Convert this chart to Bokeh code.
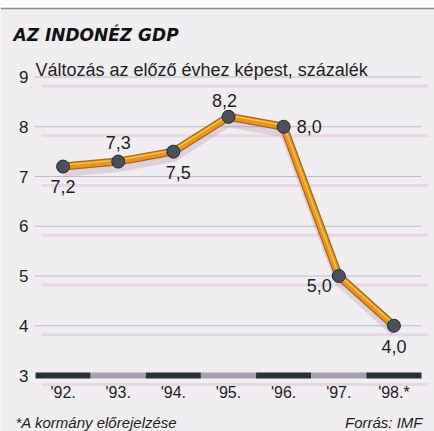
from bokeh.plotting import figure
from bokeh.models import Range1d, BoxAnnotation, Span
from bokeh.core.properties import value
from bokeh.embed import file_html
from bokeh.resources import INLINE

# ---- data ----
years = [1992, 1993, 1994, 1995, 1996, 1997, 1998]
year_labels = ["'92.", "'93.", "'94.", "'95.", "'96.", "'97.", "'98.*"]
gdp_change = [7.2, 7.3, 7.5, 8.2, 8.0, 5.0, 4.0]
y_ticks = [3, 4, 5, 6, 7, 8, 9]

title_text = "AZ INDONÉZ GDP"
subtitle_text = "Változás az előző évhez képest, százalék"
note_text = "*A kormány előrejelzése"
source_text = "Forrás: IMF"

# ---- style / layout ----
BG = "#f0eef0"
TXT = "#1e1e22"
FONT = "Liberation Sans"
W, H = 434, 431
PLOT_LEFT, PLOT_RIGHT = 35, 421      # screen px of the year band
Y_TOP_PX, Y_BASE_PX = 76.5, 375      # screen px of top tick and baseline

x_lo = years[0] - 0.5
x_hi = years[-1] + 0.5
px_x = (PLOT_RIGHT - PLOT_LEFT) / (x_hi - x_lo)
px_y = (Y_BASE_PX - Y_TOP_PX) / (y_ticks[-1] - y_ticks[0])
x_start = x_lo - PLOT_LEFT / px_x
x_end = x_hi + (W - PLOT_RIGHT) / px_x
y_end = y_ticks[-1] + Y_TOP_PX / px_y
y_start = y_ticks[0] - (H - Y_BASE_PX) / px_y

# label placement for each point (dx, dy in screen px, align)
label_place = [
    (0, 20, "center"),
    (0, -19, "center"),
    (5, 21, "center"),
    (-4, -16, "center"),
    (13, 0, "left"),
    (-7, 9, "right"),
    (0, 21, "center"),
]

p = figure(width=W, height=H, output_backend="svg", toolbar_location=None,
           x_range=Range1d(x_start, x_end), y_range=Range1d(y_start, y_end),
           x_axis_type=None, y_axis_type=None,
           min_border=0, min_border_left=0, min_border_right=0,
           min_border_top=0, min_border_bottom=0)
p.title.visible = False
p.background_fill_color = BG
p.border_fill_color = BG
p.outline_line_color = None
p.grid.visible = False

# white strip and grey rule at the very top
top_rule = y_end - 8 / px_y
p.add_layout(BoxAnnotation(bottom=top_rule, fill_color="white", fill_alpha=1,
                           line_color=None, level="underlay"))
p.add_layout(Span(location=top_rule, dimension="width", line_color="#8c8c8c",
                  line_width=1.5, level="underlay"))

# pinkish print shadows under the grid lines
shadow_dy = 9 / px_y
p.segment(x0=[x_lo + 0.12] * len(y_ticks), x1=[x_hi + 0.12] * len(y_ticks),
          y0=[t - shadow_dy for t in y_ticks], y1=[t - shadow_dy for t in y_ticks],
          line_color="#d9b6d0", line_alpha=0.4, line_width=3)

# dotted grid lines
grid_ticks = y_ticks[1:]
p.segment(x0=[x_lo] * len(grid_ticks), x1=[x_hi] * len(grid_ticks),
          y0=grid_ticks, y1=grid_ticks, line_color="#7f8c9c", line_width=1,
          line_dash="1 1")

# baseline bar, alternating dark / grey per year
bar_colors = ["#2a2e38" if i % 2 == 0 else "#a4a2b0" for i in range(len(years))]
p.rect(x=years, y=[y_ticks[0]] * len(years), width=1, height=6,
       height_units="screen", fill_color=bar_colors, line_color=None)

# y tick labels
p.text(x=[x_lo] * len(y_ticks), y=y_ticks, text=[str(t) for t in y_ticks],
       x_offset=-7, text_align="right", text_baseline="middle",
       text_font=value(FONT), text_font_size="17px", text_color=TXT)
# x tick labels
p.text(x=years, y=[y_ticks[0]] * len(years), text=year_labels, y_offset=17,
       text_align="center", text_baseline="middle",
       text_font=value(FONT), text_font_size="16px", text_color=TXT)

# line shadow
p.line(years, [v - 7 / px_y for v in gdp_change], line_color="#b48fb0",
       line_alpha=0.3, line_width=7, line_join="round")
# main line
p.line(years, gdp_change, line_color="#a8661a", line_width=8, line_join="round")
p.line(years, gdp_change, line_color="#ea9321", line_width=5.5, line_join="round")
p.line(years, [v + 1.5 / px_y for v in gdp_change], line_color="#f6d245",
       line_width=1.3, line_join="round", line_alpha=0.9)

# markers
p.scatter(years, gdp_change, size=13, fill_color="#4c5058", line_color="#26282c",
          line_width=1)

# data labels
p.text(x=years, y=gdp_change,
       text=[f"{v:.1f}".replace(".", ",") for v in gdp_change],
       x_offset=[d[0] for d in label_place], y_offset=[d[1] for d in label_place],
       text_align=[d[2] for d in label_place], text_baseline="middle",
       text_font=value(FONT), text_font_size="18px", text_color=TXT)

# title / subtitle / notes
p.text(x=[x_lo], y=[y_ticks[-1]], text=[title_text], x_offset=-22, y_offset=-42.5,
       text_baseline="alphabetic", text_font=value("DejaVu Sans"),
       text_font_style="bold italic", text_font_size="17px", text_color="#111111")
p.text(x=[x_lo], y=[y_ticks[-1]], text=[subtitle_text], x_offset=0, y_offset=-7.5,
       text_baseline="alphabetic", text_font=value(FONT), text_font_size="18px",
       text_color=TXT)
p.text(x=[x_lo], y=[y_ticks[0]], text=[note_text], x_offset=-20, y_offset=47,
       text_baseline="alphabetic", text_font=value(FONT), text_font_style="italic",
       text_font_size="15px", text_color=TXT)
p.text(x=[x_hi], y=[y_ticks[0]], text=[source_text], x_offset=1, y_offset=47,
       text_align="right", text_baseline="alphabetic", text_font=value(FONT),
       text_font_style="italic", text_font_size="15px", text_color=TXT)

open("out.html", "w").write(file_html(p, INLINE))
